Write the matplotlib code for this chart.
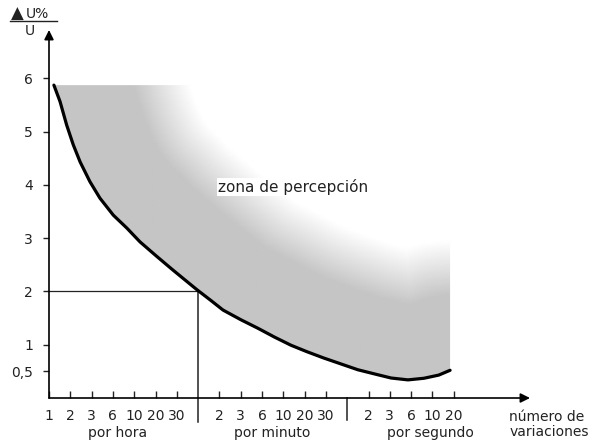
import numpy as np
import matplotlib
matplotlib.use("Agg")
import matplotlib.pyplot as plt
from matplotlib.patches import Polygon
from matplotlib.lines import Line2D

plt.rcParams['font.family'] = ['DejaVu Sans']

# x positions are evenly spaced categories (1..30 per hour | per minute | per second)
tick_pos = [0, 1, 2, 3, 4, 5, 6, 8, 9, 10, 11, 12, 13, 15, 16, 17, 18, 19]
tick_labels = ['1', '2', '3', '6', '10', '20', '30',
               '2', '3', '6', '10', '20', '30',
               '2', '3', '6', '10', '20']
sep_pos = [7, 14]
groups = ['por hora', 'por minuto', 'por segundo']
group_pos = [3.2, 10.5, 17.9]

y_ticks = [0.5, 1, 2, 3, 4, 5, 6]
y_labels = ['0,5', '1', '2', '3', '4', '5', '6']

# perception threshold curve
curve_x = [0.23, 0.52, 0.83, 1.14, 1.46, 1.92, 2.39, 3.02, 3.65, 4.27, 5.05,
           5.82, 6.4, 6.95, 7.6, 8.17, 9.0, 9.8, 10.6, 11.36, 12.1, 12.9,
           13.7, 14.5, 15.3, 16.06, 16.85, 17.6, 18.3, 18.83]
curve_y = [5.87, 5.56, 5.12, 4.75, 4.43, 4.06, 3.75, 3.43, 3.19, 2.93, 2.66,
           2.40, 2.21, 2.03, 1.83, 1.65, 1.47, 1.31, 1.14, 0.99, 0.87, 0.75,
           0.64, 0.53, 0.45, 0.375, 0.34, 0.37, 0.43, 0.52]
top_y = 5.87

fig = plt.figure(figsize=(6.01, 4.44), dpi=100)
x_unit, y_unit = 21.3, 53.3  # pixels per data unit
x0_px, y0_px = 49, 398
ax = fig.add_axes([x0_px / 601, (444 - y0_px) / 444,
                   (530 - x0_px) / 601, (y0_px - 30) / 444])
ax.set_xlim(0, (530 - x0_px) / x_unit)
ax.set_ylim(0, (y0_px - 30) / y_unit)

# shaded zone: grey near the curve, fading to white with distance from it
gx = np.linspace(0, 19.5, 420)
gy = np.linspace(0, 6.2, 280)
GX, GY = np.meshgrid(gx, gy)
P = np.stack([GX.ravel() * x_unit, GY.ravel() * y_unit], axis=1)
cx = np.array(curve_x) * x_unit
cy = np.array(curve_y) * y_unit
A = np.stack([cx[:-1], cy[:-1]], axis=1)
B = np.stack([cx[1:], cy[1:]], axis=1)
AB = B - A
dist = np.full(len(P), np.inf)
for a, ab in zip(A, AB):
    tt = np.clip(((P - a) @ ab) / (ab @ ab), 0, 1)
    d = np.hypot(*(P - a - tt[:, None] * ab).T)
    dist = np.minimum(dist, d)
dist = dist.reshape(GX.shape)
s = np.clip((dist - 74) / 56, 0, 1)
img = 0.77 + (1 - 0.77) * s
im = ax.imshow(img, extent=(gx[0], gx[-1], gy[0], gy[-1]), origin='lower',
               cmap='gray', vmin=0, vmax=1, aspect='auto', zorder=1,
               interpolation='bilinear')
poly_pts = list(zip(curve_x, curve_y)) + [(curve_x[-1], top_y), (curve_x[0], top_y)]
clip = Polygon(poly_pts, closed=True, transform=ax.transData, facecolor='none',
               edgecolor='none')
ax.add_patch(clip)
im.set_clip_path(clip)

ax.plot(curve_x, curve_y, color='black', lw=2.3, zorder=3, solid_capstyle='round',
        solid_joinstyle='round')

# reference lines at 2 %
ax.plot([0, 7], [2, 2], color='#222222', lw=0.9, zorder=2)
ax.plot([7, 7], [2, -0.45], color='#222222', lw=1.1, zorder=2, clip_on=False)
ax.plot([14, 14], [0, -0.42], color='#222222', lw=1.1, zorder=2, clip_on=False)

for sp in ax.spines.values():
    sp.set_visible(False)
ax.annotate('', xy=(1, 0), xytext=(0, 0), xycoords='axes fraction',
            arrowprops=dict(arrowstyle='-|>', lw=1.2, color='black',
                            mutation_scale=14, shrinkA=0, shrinkB=0))
ax.annotate('', xy=(0, 1), xytext=(0, 0), xycoords='axes fraction',
            arrowprops=dict(arrowstyle='-|>', lw=1.2, color='black',
                            mutation_scale=14, shrinkA=0, shrinkB=0))

ax.set_xticks(tick_pos)
ax.set_xticklabels(tick_labels)
ax.set_yticks(y_ticks)
ax.set_yticklabels(y_labels)
ax.tick_params(axis='x', direction='in', length=5, width=1, pad=8,
               labelsize=10, colors='#222222')
ax.tick_params(axis='y', direction='out', length=4, width=1, pad=7.5,
               labelsize=10, colors='#222222')

for g, gp in zip(groups, group_pos):
    ax.text(gp, -0.66, g, ha='center', va='center', fontsize=10, color='#222222')
ax.text(21.6, -0.5, 'número de\nvariaciones', ha='left', va='center',
        fontsize=10, color='#222222', linespacing=1.15, clip_on=False)

ax.text(7.93, 3.96, 'zona de percepción', ha='left', va='center', fontsize=11,
        color='#222222', zorder=4,
        bbox=dict(facecolor='white', edgecolor='none', pad=1))

# y axis title  ΔU% / U
fig.text(17 / 601, 1 - 14 / 444, '▲', ha='center', va='center', fontsize=12,
         color='#222222')
fig.text(37 / 601, 1 - 14 / 444, 'U%', ha='center', va='center', fontsize=10,
         color='#222222')
fig.add_artist(Line2D([10 / 601, 57 / 601], [1 - 21 / 444, 1 - 21 / 444],
                      color='#222222', lw=1))
fig.text(30 / 601, 1 - 31 / 444, 'U', ha='center', va='center', fontsize=10,
         color='#222222')

fig.savefig('out.png', dpi=100)
